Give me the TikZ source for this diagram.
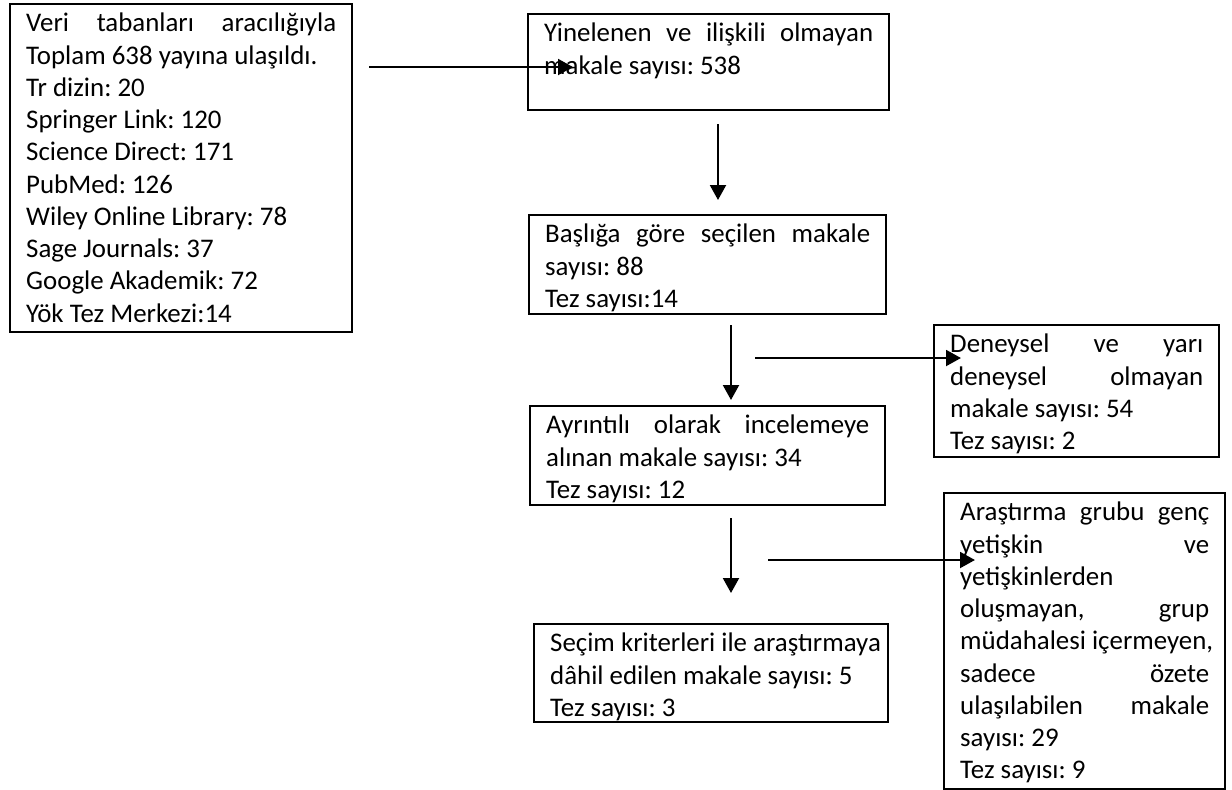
\documentclass[tikz,border=0pt]{standalone}
\usepackage{fontspec}
\setmainfont{Carlito}
\usepackage{tikz}
\usetikzlibrary{arrows.meta}
\newdimen\px
\px=0.02cm
\newcommand{\kutuyazi}[3]{\parbox[t][#2\px][t]{#1\px}{\rule{0pt}{24.5\px}#3}}
\tikzset{
    kutu/.style = {draw, line width=1.4pt, anchor=north west, inner xsep=16\px, inner ysep=3\px,
                   font=\fontsize{15.3pt}{18.37pt}\selectfont\frenchspacing},
    ok/.style = {-{Triangle[length=8.5pt, width=9pt]}, line width=1.4pt},
}

\begin{document}
\begin{tikzpicture}[x=0.02cm, y=-0.02cm]
        \useasboundingbox (0,0) rectangle (1232,789);
        \node[kutu] (veri) at (9,3) {\kutuyazi{310}{322}{Veri\hfill tabanları\hfill aracılığıyla\\
            Toplam 638 yayına ulaşıldı.\\ Tr dizin: 20\\ Springer Link: 120\\ Science Direct: 171\\
            PubMed: 126\\ Wiley Online Library: 78\\ Sage Journals: 37\\ Google Akademik: 72\\
            Yök Tez Merkezi:14}};
        \node[kutu] (yinelenen) at (527,13) {\kutuyazi{329}{90}{Yinelenen\hfill ve\hfill ilişkili\hfill olmayan\\
            makale sayısı: 538}};
        \node[kutu] (baslik) at (528,214) {\kutuyazi{325}{93}{Başlığa\hfill göre\hfill seçilen\hfill makale\\
            sayısı: 88\\ Tez sayısı:14}};
        \node[kutu] (ayrintili) at (529,405) {\kutuyazi{323}{93}{Ayrıntılı\hfill olarak\hfill incelemeye\\
            alınan makale sayısı: 34\\ Tez sayısı: 12}};
        \node[kutu] (secim) at (533,623) {\kutuyazi{322}{92}{\mbox{Seçim kriterleri ile araştırmaya}\\
            dâhil edilen makale sayısı: 5\\ Tez sayısı: 3}};
        \node[kutu] (deneysel) at (933,324) {\kutuyazi{253}{126}{Deneysel\hfill ve\hfill yarı\\
            deneysel\hfill olmayan\\ makale sayısı: 54\\ Tez sayısı: 2}};
        \node[kutu] (grup) at (943,492) {\kutuyazi{249}{290}{Araştırma\hfill grubu\hfill genç\\
            yetişkin\hfill ve\\ yetişkinlerden\\ oluşmayan,\hfill grup\\ \mbox{müdahalesi içermeyen,}\\
            sadece\hfill özete\\ ulaşılabilen\hfill makale\\ sayısı: 29\\ Tez sayısı: 9}};
        \coordinate (o1a) at (369,67);
        \coordinate (o1b) at (573,67);
        \coordinate (o2a) at (718,124);
        \coordinate (o2b) at (718,200);
        \coordinate (o3a) at (731,325);
        \coordinate (o3b) at (731,400);
        \coordinate (o4a) at (755,358);
        \coordinate (o4b) at (961,358);
        \coordinate (o5a) at (731,518);
        \coordinate (o5b) at (731,593);
        \coordinate (o6a) at (768,560);
        \coordinate (o6b) at (975,560);
        \foreach \a/\b in {o1a/o1b, o2a/o2b, o3a/o3b, o4a/o4b, o5a/o5b, o6a/o6b}
            {
                \draw[ok] (\a) -- (\b);
            }
    \end{tikzpicture}
\end{document}
